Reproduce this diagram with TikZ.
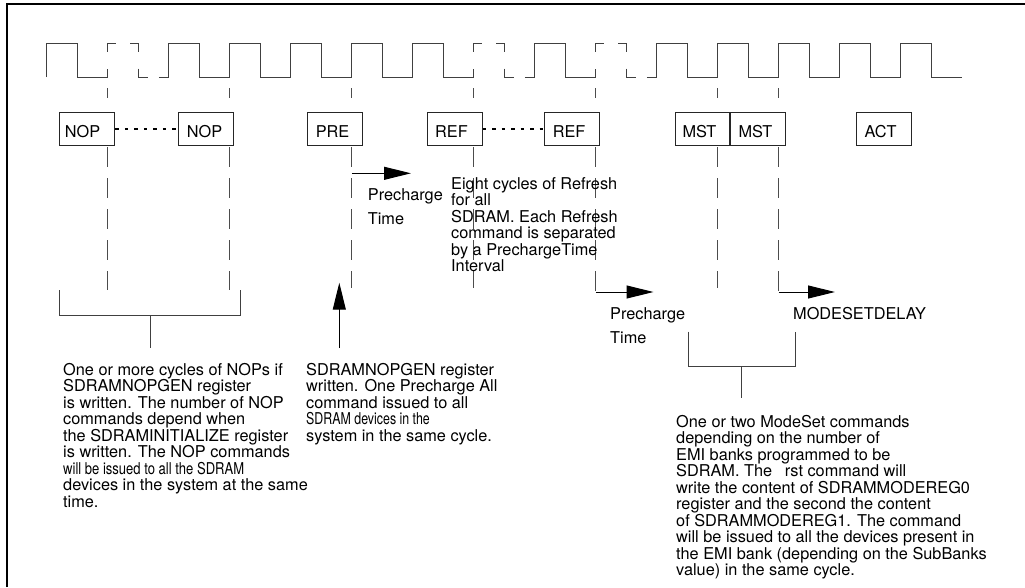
\documentclass[tikz,border=0pt]{standalone}
\usepackage{fontspec}
\setmainfont{TeX Gyre Heros}
\usepackage{graphicx}
\usetikzlibrary{arrows.meta}
\newcommand{\nrw}[2]{\scalebox{#1}[1]{#2}}
\tikzset{
 wave/.style={draw=black!75, line width=0.9pt},
 frameline/.style={draw=black, line width=1.4pt},
 cmd/.style={draw=black!85, line width=1pt, minimum height=33pt, text width=39pt, inner xsep=8pt, inner ysep=0pt, align=left, text height=17.5pt, text depth=0pt, anchor=north west, font=\fontsize{16.3}{16.5}\selectfont},
 dotline/.style={draw=black, line width=1.3pt, dash pattern=on 3.5pt off 6pt},
 vdash/.style={draw=black!70, line width=0.9pt, dash pattern=on 20pt off 11pt},
 tickline/.style={draw=black!70, line width=0.9pt},
 arr/.style={draw=black, line width=1pt, -{Triangle[length=27pt,width=13pt]}},
 brk/.style={draw=black!75, line width=0.9pt},
 txt/.style={font=\fontsize{16.3}{16.5}\selectfont, align=left, anchor=north west, inner sep=0pt},
 lbl/.style={font=\fontsize{16.3}{16.5}\selectfont, anchor=base west, inner sep=0pt},
}
\begin{document}
\begin{tikzpicture}[x=1pt,y=-1pt]
\useasboundingbox (0,0) rectangle (1025,587);
% frame
\draw[frameline] (7,587) -- (7,4) -- (1025,4);
% clock waveform
\foreach \k in {0,2,3,4,5,6,8,10,11,12,13,14} {
  \pgfmathsetmacro\xa{46.9+\k*61.0}
  \pgfmathsetmacro\xb{\xa+30.5}
  \pgfmathsetmacro\xc{\xa+61.0}
  \draw[wave] (\xa,77) -- (\xa,43) -- (\xb,43) -- (\xb,77) -- (\xc,77);
}
\foreach \k in {1,7,9} {
  \pgfmathsetmacro\xa{46.9+\k*61.0}
  \pgfmathsetmacro\xb{\xa+30.5}
  \pgfmathsetmacro\xc{\xa+61.0}
  \draw[wave] (\xa,77) -- (\xa,68.5);
  \draw[wave] (\xa,51.5) -- (\xa,43) -- ({\xa+8},43);
  \draw[wave] ({\xb-8},43) -- (\xb,43) -- (\xb,51.5);
  \draw[wave] (\xb,68.5) -- (\xb,77) -- ({\xb+10},77);
  \draw[wave] ({\xc-10},77) -- (\xc,77);
}
% command boxes
\node[cmd, inner xsep=5pt, text width=45pt] (nop1) at (59.3,112) {NOP};
\node[cmd] (nop2) at (178.3,112) {NOP};
\node[cmd] (pre) at (307.3,112) {PRE};
\node[cmd] (ref1) at (426.7,112) {REF};
\node[cmd] (ref2) at (544.3,112) {REF};
\node[cmd, inner xsep=7pt, text width=40pt] (mst1) at (675,112) {MST};
\node[cmd] (mst2) at (mst1.north east) {MST};
\node[cmd] (act) at (856,112) {ACT};
\draw[dotline] (nop1) -- (nop2);
\draw[dotline] (ref1) -- (ref2);
% dashed timing lines
\foreach \n/\x/\b in {t1/107.9/290, t3/229.9/290, t5/351.9/288, t7/473.9/288, t9/595.9/292, t11/717.9/288, t12/778.9/292} {
  \coordinate (\n a) at (\x,88);
  \coordinate (\n b) at (\x,98);
  \coordinate (\n c) at (\x,147);
  \coordinate (\n d) at (\x,\b);
  \draw[tickline] (\n a) -- (\n b);
  \draw[vdash] (\n c) -- (\n d);
}
% precharge arrow after PRE
\coordinate (pa1) at (351.9,173.3);
\coordinate (pa2) at (411,173.3);
\draw[arr] (pa1) -- (pa2);
\node[lbl] (pc1) at (367.7,200) {Precharge};
\node[lbl] (tm1) at (367.7,224) {Time};
% eight cycles text
\node[txt] (eight) at (451,177) {Eight cycles of Refresh\\for all\\SDRAM. Each Refresh\\command is separated\\by a PrechargeTime\\Interval};
% arrows after REF and MST
\coordinate (ra2) at (653.5,292);
\draw[arr] (t9d) -- (ra2);
\coordinate (ma2) at (835,292);
\draw[arr] (t12d) -- (ma2);
\node[lbl] (pc2) at (610,319) {Precharge};
\node[lbl] (tm2) at (610,343) {Time};
\node[lbl] (msd) at (793,319) {MODESETDELAY};
% NOP bracket
\coordinate (nb1) at (59.3,290);
\coordinate (nb2) at (59.3,315.7);
\coordinate (nb3) at (240.7,315.7);
\coordinate (nb4) at (240.7,290);
\coordinate (nb5) at (150,315.7);
\coordinate (nb6) at (150,348.3);
\draw[brk] (nb1) -- (nb2) -- (nb3) -- (nb4);
\draw[brk] (nb5) -- (nb6);
% up arrow
\coordinate (ua1) at (339.3,348);
\coordinate (ua2) at (339.3,282.7);
\draw[arr] (ua1) -- (ua2);
% MST bracket
\coordinate (mb1) at (688.3,331.7);
\coordinate (mb2) at (688.3,366.7);
\coordinate (mb3) at (795.7,366.7);
\coordinate (mb4) at (795.7,331.7);
\coordinate (mb5) at (741.7,366.7);
\coordinate (mb6) at (741.7,398.3);
\draw[brk] (mb1) -- (mb2) -- (mb3) -- (mb4);
\draw[brk] (mb5) -- (mb6);
% description texts
\node[txt] (nopdesc) at (63,363) {One or more cycles of NOPs if\\SDRAMNOPGEN register\\is written. The number of NOP\\commands depend when\\the SDRAMINITIALIZE register\\is written. The NOP commands\\\nrw{0.8}{will be issued to all the SDRAM}\\devices in the system at the same\\time.};
\node[txt] (predesc) at (306,363) {SDRAMNOPGEN register\\written. One Precharge All\\command issued to all\\\nrw{0.76}{SDRAM devices in the}\\system in the same cycle.};
\node[txt] (mstdesc) at (676,415) {One or two ModeSet commands\\depending on the number of\\EMI banks programmed to be\\SDRAM. The\hspace{0.78em}rst command will\\write the content of SDRAMMODEREG0\\register and the second the content\\of SDRAMMODEREG1. The command\\will be issued to all the devices present in\\the EMI bank (depending on the SubBanks\\value) in the same cycle.};
\end{tikzpicture}
\end{document}
